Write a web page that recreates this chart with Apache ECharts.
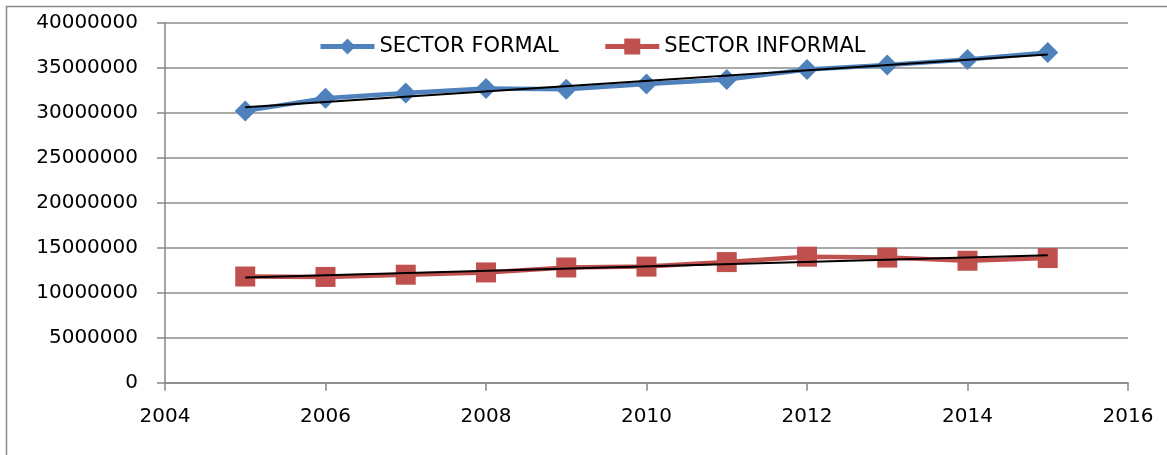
<!DOCTYPE html>
<html>
<head>
<meta charset="utf-8">
<script src="https://cdn.jsdelivr.net/npm/echarts@6/dist/echarts.min.js"></script>
<style>
html,body{margin:0;padding:0;background:#fff;}
#chart{width:1167px;height:455px;}
</style>
</head>
<body>
<div id="chart"></div>
<script>
const years = [2005, 2006, 2007, 2008, 2009, 2010, 2011, 2012, 2013, 2014, 2015];
const formal = [30200000, 31600000, 32200000, 32700000, 32600000, 33200000, 33700000, 34800000, 35300000, 35900000, 36700000];
const informal = [11800000, 11750000, 12000000, 12250000, 12800000, 12900000, 13400000, 14000000, 13900000, 13550000, 13850000];
const seriesNames = ['SECTOR FORMAL', 'SECTOR INFORMAL'];
const xTicks = [2004, 2006, 2008, 2010, 2012, 2014, 2016];
const yTicks = [0, 5000000, 10000000, 15000000, 20000000, 25000000, 30000000, 35000000, 40000000];

function trend(xs, ys) {
  const n = xs.length;
  const mx = xs.reduce((a, b) => a + b, 0) / n;
  const my = ys.reduce((a, b) => a + b, 0) / n;
  let sxy = 0, sxx = 0;
  for (let i = 0; i < n; i++) { sxy += (xs[i] - mx) * (ys[i] - my); sxx += (xs[i] - mx) * (xs[i] - mx); }
  const b = sxy / sxx, a = my - b * mx;
  const x0 = xs[0], x1 = xs[n - 1];
  return [[x0, a + b * x0], [x1, a + b * x1]];
}
const pair = (xs, ys) => xs.map((x, i) => [x, ys[i]]);

const FONT = 'DejaVu Sans';
const chart = echarts.init(document.getElementById('chart'), null, {renderer: 'canvas'});
chart.setOption({
  animation: false,
  backgroundColor: '#fff',
  textStyle: {fontFamily: FONT},
  graphic: [{
    type: 'rect', silent: true, z: -10,
    shape: {x: 6.5, y: 6.5, width: 1300, height: 600},
    style: {fill: 'none', stroke: '#8a8a8a', lineWidth: 1.5}
  }],
  grid: {left: 165, right: 39, top: 22.7, bottom: 72.3, containLabel: false},
  legend: {
    data: seriesNames,
    left: 318, top: 36, padding: 0,
    itemWidth: 54, itemHeight: 20, itemGap: 44,
    lineStyle: {width: 5},
    textStyle: {fontFamily: FONT, fontSize: 21, color: '#000'}
  },
  xAxis: {
    type: 'value', min: xTicks[0], max: xTicks[xTicks.length - 1], interval: 2,
    axisLine: {show: true, lineStyle: {color: '#868686', width: 1.5}},
    axisTick: {show: true, length: 8, lineStyle: {color: '#868686', width: 1.5}},
    axisLabel: {fontFamily: FONT, fontSize: 20, color: '#000', margin: 24, formatter: v => String(v)},
    splitLine: {show: false}
  },
  yAxis: {
    type: 'value', min: yTicks[0], max: yTicks[yTicks.length - 1], interval: 5000000,
    axisLine: {show: true, lineStyle: {color: '#868686', width: 1.5}},
    axisTick: {show: true, length: 8, lineStyle: {color: '#868686', width: 1.5}},
    axisLabel: {fontFamily: FONT, fontSize: 20, color: '#000', margin: 27, formatter: v => String(v)},
    splitLine: {show: true, lineStyle: {color: '#8c8c8c', width: 1.5}}
  },
  series: [
    {
      name: seriesNames[0], type: 'line', data: pair(years, formal),
      symbol: 'diamond', symbolSize: 21,
      lineStyle: {color: '#4F81BD', width: 4.5},
      itemStyle: {color: '#4F81BD'}, z: 2
    },
    {
      name: seriesNames[1], type: 'line', data: pair(years, informal),
      symbol: 'rect', symbolSize: 20,
      lineStyle: {color: '#C0504D', width: 4.5},
      itemStyle: {color: '#C0504D'}, z: 2
    },
    {
      name: 'trend1', type: 'line', data: trend(years, formal), symbol: 'none',
      lineStyle: {color: '#000', width: 2}, z: 5, silent: true
    },
    {
      name: 'trend2', type: 'line', data: trend(years, informal), symbol: 'none',
      lineStyle: {color: '#000', width: 2}, z: 5, silent: true
    }
  ]
});
</script>
</body>
</html>
